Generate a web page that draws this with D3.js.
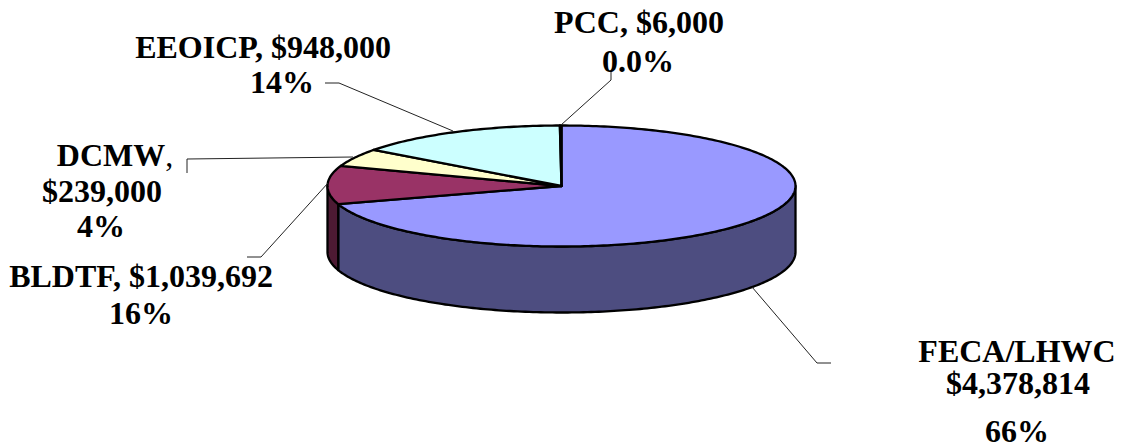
<!DOCTYPE html>
<html><head><meta charset="utf-8">
<script src="https://cdn.jsdelivr.net/npm/d3@7"></script>
<style>html,body{margin:0;padding:0;background:#fff}svg{display:block}
text{font-family:"Liberation Serif",serif;font-weight:bold;font-size:32px;fill:#000;text-anchor:middle}</style>
</head><body><svg id="c" width="1122" height="445"></svg>
<script>
const categories=["FECA/LHWC","BLDTF","DCMW","EEOICP","PCC"];
const values=[4378814,1039692,239000,948000,6000];
const topColors=["#9999FF","#993366","#FFFFCC","#CCFFFF","#660066"];
const sideColors=["#4D4D80","#4D1A33","#80806A","#6A8080","#330033"];
const labelLines=[
 ["FECA/LHWC","$4,378,814","66%"],
 ["BLDTF, $1,039,692","16%"],
 ["DCMW","$239,000","4%"],
 ["EEOICP, $948,000","14%"],
 ["PCC, $6,000","0.0%"]];
const W=1122,H=445,cx=561.5,cy=186,rx=234,ry=60.5,depth=66;
const total=d3.sum(values);
const cum=d3.cumsum(values).map(v=>v/total);
// Excel's 3-D view skews angles; map cumulative share to apparent ellipse angle
const angle=d3.scaleLinear().domain([0,...cum]).range([0,252.6,289.5,306.6,359.6,360].map(d=>d*Math.PI/180));
const x=d3.scaleLinear().domain([-1,1]).range([cx-rx,cx+rx]);
const y=d3.scaleLinear().domain([-1,1]).range([cy-ry,cy+ry]);
const px=a=>x(Math.sin(a)),py=a=>y(-Math.cos(a));
const svg=d3.select("#c");
const slices=values.map((v,i)=>({i,a0:angle(i?cum[i-1]:0),a1:angle(cum[i])}));
function arcPts(a0,a1){const n=Math.max(2,Math.ceil((a1-a0)*60));return d3.range(n+1).map(k=>{const a=a0+(a1-a0)*k/n;return [px(a),py(a)]})}
const line=d3.line();
const lo=Math.PI/2,hi=1.5*Math.PI;
slices.forEach(s=>{const a0=Math.max(s.a0,lo),a1=Math.min(s.a1,hi);if(a1<=a0)return;
 const t=arcPts(a0,a1),b=t.slice().reverse().map(p=>[p[0],p[1]+depth]);
 svg.append("path").attr("d",line(t.concat(b))+"Z").attr("fill",sideColors[s.i]).attr("stroke","#000").attr("stroke-width",2.3).attr("stroke-linejoin","round");});
slices.forEach(s=>{const pts=[[x(0),y(0)],...arcPts(s.a0,s.a1)];
 svg.append("path").attr("d",line(pts)+"Z").attr("fill",topColors[s.i]).attr("stroke","#000").attr("stroke-width",2.3).attr("stroke-linejoin","round");});
// labels
const labelX=[[1017,1018,1017],[141,141],[115,102,101],[263,282],[639,638]];
const labelY=[[362,394,442],[287,324],[166,202,237],[58,93],[33,72]];
labelLines.forEach((ls,i)=>ls.forEach((t,j)=>{
 const el=svg.append("text").attr("x",labelX[i][j]).attr("y",labelY[i][j]).text(t);
 if(t==="DCMW")el.append("tspan").style("font-weight","normal").text(",");
}));
// leaders
const leaders=[[[752,287],[817,363],[831,363]],[[328,183],[261,257],[247,257]],[[353,157],[187,159],[187,173]],[[453,131],[339,83],[325,83]],[[561,125],[611,80],[611,72]]];
leaders.forEach(l=>svg.append("path").attr("d",line(l)).attr("fill","none").attr("stroke","#222").attr("stroke-width",1));
</script></body></html>
